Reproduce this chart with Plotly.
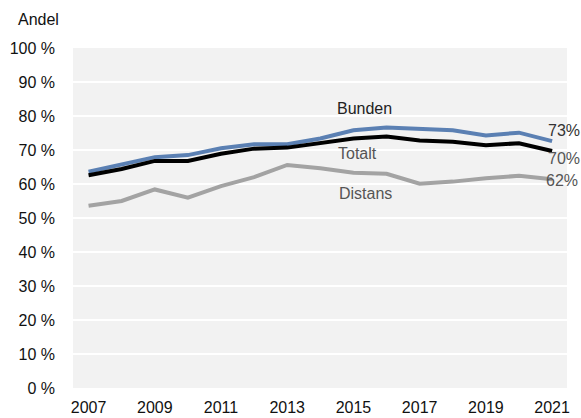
import plotly.graph_objects as go

years = list(range(2007, 2022))
bunden = [63.6, 65.6, 67.9, 68.5, 70.5, 71.7, 71.7, 73.4, 75.8, 76.6, 76.3, 75.8, 74.3, 75.1, 72.6]
totalt = [62.6, 64.4, 66.8, 66.8, 68.9, 70.4, 70.7, 72.0, 73.4, 74.0, 72.8, 72.4, 71.4, 72.0, 69.7]
distans = [53.6, 55.0, 58.4, 56.0, 59.4, 62.0, 65.6, 64.6, 63.3, 63.0, 60.1, 60.7, 61.7, 62.4, 61.4]
y_ticks = [0, 10, 20, 30, 40, 50, 60, 70, 80, 90, 100]
y_ticktext = [f"{v} %" for v in y_ticks]
x_ticks = [2007, 2009, 2011, 2013, 2015, 2017, 2019, 2021]
end_labels = ["73%", "70%", "62%"]

FONT = "Liberation Sans, Arial, Helvetica, sans-serif"
FS = 16

fig = go.Figure()
fig.add_trace(go.Scatter(x=years, y=distans, mode="lines", line=dict(color="#a3a3a3", width=4), name="Distans"))
fig.add_trace(go.Scatter(x=years, y=bunden, mode="lines", line=dict(color="#5b80b3", width=4), name="Bunden"))
fig.add_trace(go.Scatter(x=years, y=totalt, mode="lines", line=dict(color="#000000", width=4), name="Totalt"))

ann = []
ann.append(dict(x=2015.32, y=82.1, text="Bunden", showarrow=False, font=dict(color="#222222", size=FS, family=FONT)))
ann.append(dict(x=2015.11, y=69.1, text="Totalt", showarrow=False, font=dict(color="#555555", size=FS, family=FONT)))
ann.append(dict(x=2015.35, y=57.1, text="Distans", showarrow=False, font=dict(color="#555555", size=FS, family=FONT)))
ann.append(dict(x=2021, y=75.6, text=end_labels[0], showarrow=False, xanchor="left", xshift=-6, font=dict(color="#333333", size=FS, family=FONT)))
ann.append(dict(x=2021, y=67.6, text=end_labels[1], showarrow=False, xanchor="left", xshift=-6, font=dict(color="#555555", size=FS, family=FONT)))
ann.append(dict(x=2021, y=60.9, text=end_labels[2], showarrow=False, xanchor="left", xshift=-8, font=dict(color="#555555", size=FS, family=FONT)))
ann.append(dict(x=0, y=1, xref="paper", yref="paper", xanchor="left", yanchor="middle", xshift=-57, yshift=28.5,
                text="Andel", showarrow=False, font=dict(color="#111111", size=FS, family=FONT)))

fig.update_layout(
    width=581, height=418,
    margin=dict(l=73, r=14, t=48, b=30, autoexpand=False),
    paper_bgcolor="white", plot_bgcolor="#f2f2f2",
    showlegend=False,
    font=dict(family=FONT, size=FS, color="#111111"),
    annotations=ann,
)
fig.update_xaxes(range=[2006.53, 2021.45], tickvals=x_ticks, showgrid=False, zeroline=False, automargin=False,
                 showline=False, ticks="", ticklabelstandoff=8, tickfont=dict(size=FS, color="#111111"))
fig.update_yaxes(range=[0, 100], tickvals=y_ticks, ticktext=y_ticktext, showgrid=True, gridcolor="white",
                 gridwidth=2, zeroline=False, showline=False, ticks="", ticklabelstandoff=17, automargin=False,
                 tickfont=dict(size=FS, color="#111111"))

fig.write_html("out.html", config={"displayModeBar": False},
               post_script="document.body.style.margin='0';document.body.style.overflow='hidden';")
